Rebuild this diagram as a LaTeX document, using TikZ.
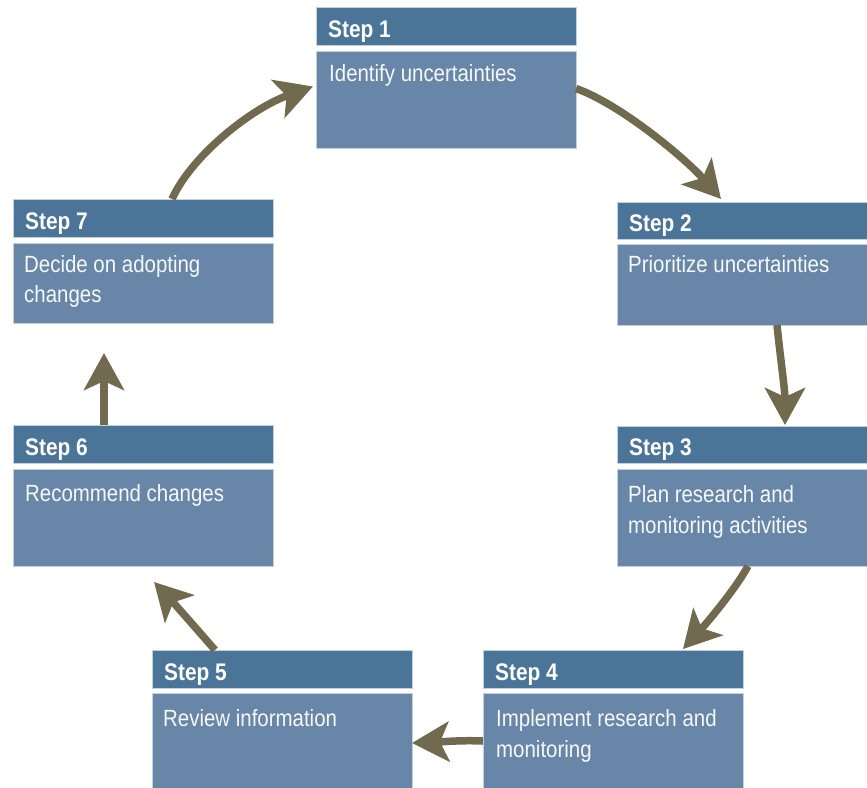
\documentclass[tikz,border=0pt]{standalone}
\usepackage{graphicx}
\usepackage{fontspec}
\setmainfont{Liberation Sans}
\usetikzlibrary{arrows.meta}
\definecolor{hdrblue}{HTML}{4A7498}
\definecolor{bodyblue}{HTML}{6886A8}
\definecolor{edgeblue}{HTML}{C3D1DF}
\definecolor{arrowcol}{HTML}{726A4E}
\newcommand{\narrowtxt}[1]{\scalebox{0.87}[1]{#1}}
\tikzset{
  hdrbox/.style={fill=hdrblue, draw=edgeblue, line width=0.6pt, anchor=north west, inner sep=0pt, outer sep=0pt, minimum height=38pt},
  bodybox/.style={fill=bodyblue, draw=edgeblue, line width=0.6pt, anchor=north west, inner sep=0pt, outer sep=0pt},
  hdrtext/.style={anchor=base west, inner sep=0pt, text=white, font=\fontsize{24}{28}\selectfont\bfseries},
  bodytext/.style={anchor=base west, inner sep=0pt, text=white!94!bodyblue, font=\fontsize{23.5}{28}\selectfont},
  flow/.style={draw=arrowcol, line width=7.5pt, -{Stealth[length=37pt,width=40pt,inset=9pt]}}
}
\begin{document}
\begin{tikzpicture}[x=1pt,y=-1pt]
\useasboundingbox (0,0) rectangle (867,787);
% boxes
\node[hdrbox, minimum width=260pt] (h1) at (316,7) {};
\node[bodybox, minimum width=260pt, minimum height=97pt] (b1) at (316,51) {};
\node[hdrbox, minimum width=252pt, minimum height=37pt] (h2) at (617,202) {};
\node[bodybox, minimum width=252pt, minimum height=81pt] (b2) at (617,244) {};
\node[hdrbox, minimum width=252pt, minimum height=37pt] (h3) at (617,426) {};
\node[bodybox, minimum width=252pt, minimum height=97pt] (b3) at (617,469) {};
\node[hdrbox, minimum width=260pt] (h4) at (483,650) {};
\node[bodybox, minimum width=260pt, minimum height=100pt] (b4) at (483,693) {};
\node[hdrbox, minimum width=260pt] (h5) at (152,650) {};
\node[bodybox, minimum width=260pt, minimum height=100pt] (b5) at (152,693) {};
\node[hdrbox, minimum width=260pt] (h6) at (13,425) {};
\node[bodybox, minimum width=260pt, minimum height=97pt] (b6) at (13,469) {};
\node[hdrbox, minimum width=260pt] (h7) at (13,199) {};
\node[bodybox, minimum width=260pt, minimum height=80pt] (b7) at (13,243) {};
% texts
\node[hdrtext] (s1) at ([xshift=12pt,yshift=-30pt]h1.north west) {\narrowtxt{Step 1}};
\node[bodytext] (t1) at ([xshift=13pt,yshift=-30pt]b1.north west) {\narrowtxt{Identify uncertainties}};
\node[hdrtext] (s2) at ([xshift=12pt,yshift=-29pt]h2.north west) {\narrowtxt{Step 2}};
\node[bodytext] (t2) at ([xshift=11pt,yshift=-28pt]b2.north west) {\narrowtxt{Prioritize uncertainties}};
\node[hdrtext] (s3) at ([xshift=12pt,yshift=-29pt]h3.north west) {\narrowtxt{Step 3}};
\node[bodytext] (t3a) at ([xshift=11pt,yshift=-33pt]b3.north west) {\narrowtxt{Plan research and}};
\node[bodytext] (t3b) at ([xshift=11pt,yshift=-64pt]b3.north west) {\narrowtxt{monitoring activities}};
\node[hdrtext] (s4) at ([xshift=12pt,yshift=-30pt]h4.north west) {\narrowtxt{Step 4}};
\node[bodytext] (t4a) at ([xshift=13pt,yshift=-33pt]b4.north west) {\narrowtxt{Implement research and}};
\node[bodytext] (t4b) at ([xshift=13pt,yshift=-64pt]b4.north west) {\narrowtxt{monitoring}};
\node[hdrtext] (s5) at ([xshift=12pt,yshift=-30pt]h5.north west) {\narrowtxt{Step 5}};
\node[bodytext] (t5) at ([xshift=11pt,yshift=-33pt]b5.north west) {\narrowtxt{Review information}};
\node[hdrtext] (s6) at ([xshift=12pt,yshift=-30pt]h6.north west) {\narrowtxt{Step 6}};
\node[bodytext] (t6) at ([xshift=12pt,yshift=-32pt]b6.north west) {\narrowtxt{Recommend changes}};
\node[hdrtext] (s7) at ([xshift=12pt,yshift=-30pt]h7.north west) {\narrowtxt{Step 7}};
\node[bodytext] (t7a) at ([xshift=11pt,yshift=-29pt]b7.north west) {\narrowtxt{Decide on adopting}};
\node[bodytext] (t7b) at ([xshift=11pt,yshift=-59pt]b7.north west) {\narrowtxt{changes}};
% connectors
\draw[flow] ([yshift=11pt]b1.east) .. controls (620,104) and (685,158) .. ([xshift=-22pt,yshift=3pt]h2.north);
\draw[flow] ([xshift=34pt]b2.south) .. controls (780,355) and (785,390) .. ([xshift=42pt,yshift=1pt]h3.north);
\draw[flow] ([xshift=5pt]b3.south) .. controls (735,590) and (705,625) .. ([xshift=70pt,yshift=1pt]h4.north);
\draw[flow] ([yshift=2pt]b4.west) .. controls (460,740) and (440,742) .. (b5.east);
\draw[flow] ([xshift=-67pt]h5.north) .. controls (195,627) and (172,601) .. ([xshift=11pt,yshift=-16pt]b6.south);
\draw[flow] ([xshift=-39pt]h6.north) -- ([xshift=-39pt,yshift=-30pt]b7.south);
\draw[flow] ([xshift=29pt]h7.north) .. controls (192,155) and (252,108) .. ([xshift=-3pt,yshift=13pt]b1.west);
\end{tikzpicture}
\end{document}
